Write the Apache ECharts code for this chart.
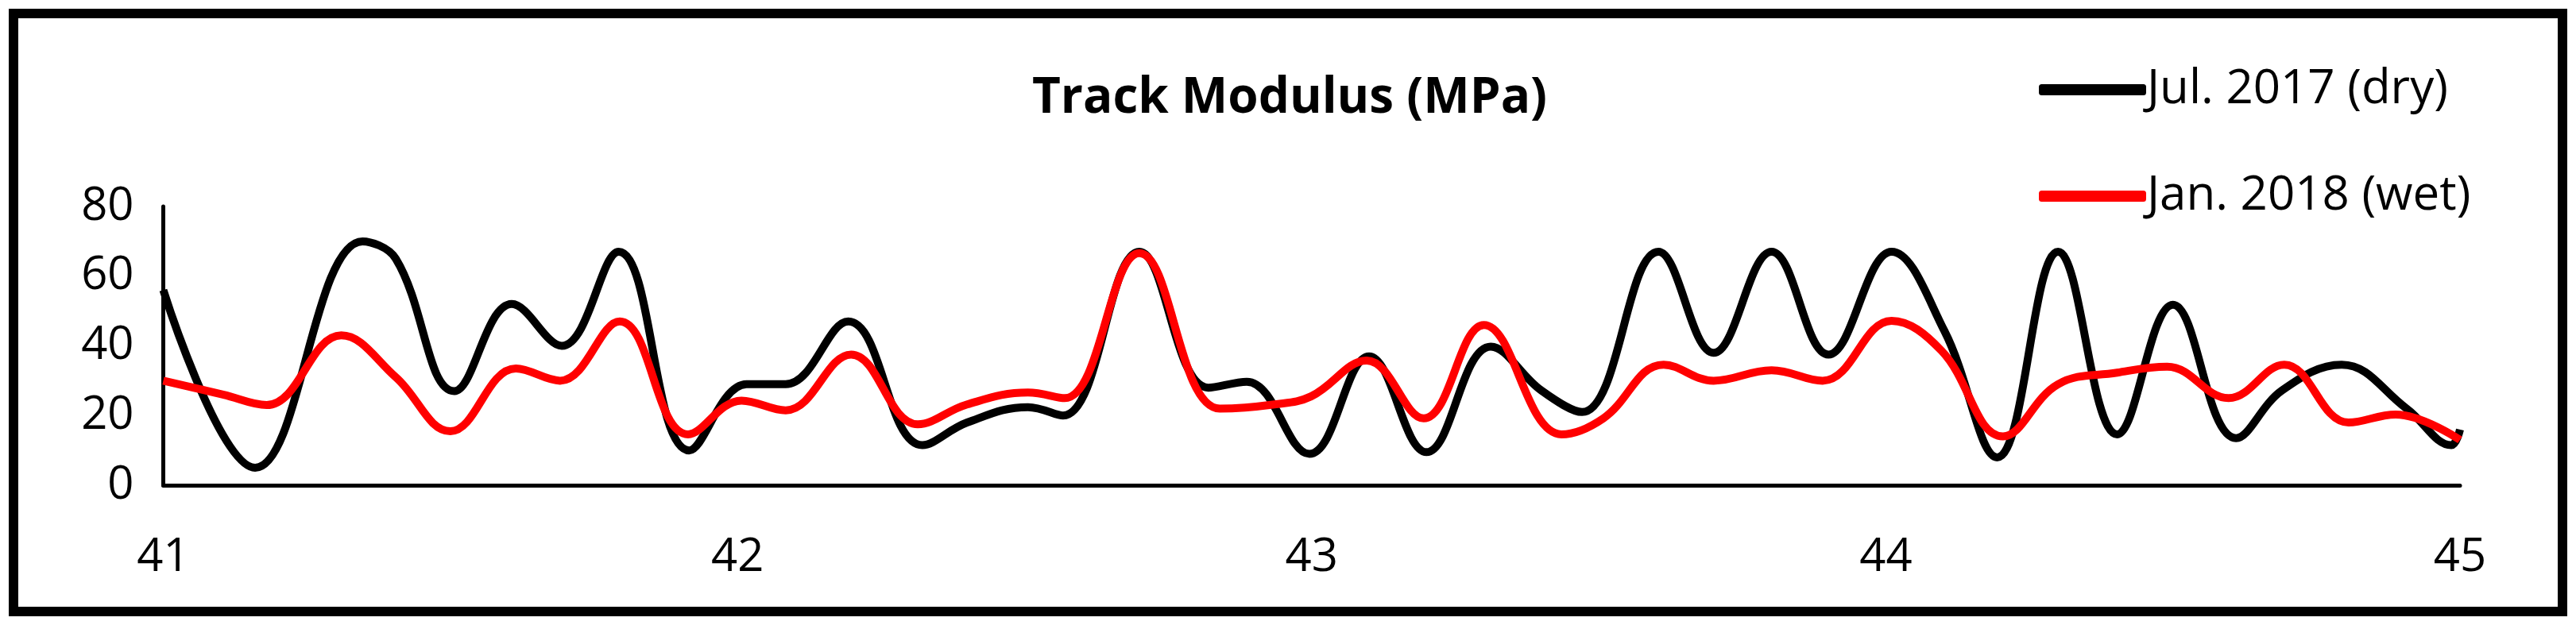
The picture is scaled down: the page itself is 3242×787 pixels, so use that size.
<!DOCTYPE html>
<html><head><meta charset="utf-8">
<script src="https://cdn.jsdelivr.net/npm/echarts@6/dist/echarts.min.js"></script>
<style>html,body{margin:0;padding:0;background:#fff}#c{width:3242px;height:787px}</style>
</head><body><div id="c"></div>
<script>
const title = 'Track Modulus (MPa)';
const seriesNames = ['Jul. 2017 (dry)', 'Jan. 2018 (wet)'];
const yTicks = [0, 20, 40, 60, 80];
const xTicks = [41, 42, 43, 44, 45];
const dryX = [41.0,41.16,41.347,41.405,41.507,41.607,41.694,41.793,41.916,42.016,42.084,42.193,42.322,42.40,42.506,42.567,42.70,42.82,42.887,42.996,43.10,43.20,43.312,43.40,43.471,43.604,43.70,43.801,43.90,44.01,44.102,44.194,44.30,44.403,44.50,44.61,44.69,44.794,44.907,44.985,45.0];
const dryY = [56,5,70,65,27,52,40,67,10,29,29,47,11.5,18,22.4,20,67,28,29.7,9,37,9.5,39.8,27.2,21,67,38,67,37.5,67,44.3,8,67,14.6,51.8,13.5,27.2,34.6,22,11.5,16];
const wetX = [41.0,41.104,41.18,41.31,41.405,41.5,41.614,41.691,41.795,41.914,42.007,42.084,42.198,42.314,42.40,42.506,42.57,42.70,42.84,42.935,42.999,43.096,43.195,43.30,43.435,43.508,43.613,43.70,43.801,43.89,44.01,44.097,44.204,44.30,44.403,44.49,44.597,44.694,44.806,44.888,45.0];
const wetY = [30,26,23,43,31,15.5,33.5,30,47,14.6,24.3,21.5,37.5,17.5,23.2,26.6,25,66.6,22,23.2,25.5,35.8,19.2,46,14.6,19.2,34.6,30,33,30,47.2,38.6,14,29,32.3,34,25,34.6,18,20.3,13];

const font = '"Liberation Sans Narrow", "Open Sans", sans-serif';
const chart = echarts.init(document.getElementById('c'), null, {renderer:'canvas'});
chart.setOption({
  backgroundColor:'#fff',
  animation:false,
  title:{text:title,left:1618,top:88,textAlign:'center',
    textStyle:{fontFamily:font,fontWeight:'bold',fontSize:62,color:'#000'}},
  legend:{orient:'vertical',left:2561,top:78,itemWidth:135,itemHeight:14,itemGap:74,
    icon:'roundRect',
    textStyle:{fontFamily:font,fontSize:60,color:'#000',padding:[0,0,0,-4]},
    data:seriesNames},
  graphic:[{type:'rect',shape:{x:17,y:17,width:3208,height:753},
    style:{fill:'none',stroke:'#000',lineWidth:12},silent:true}],
  grid:{left:205.5,right:146,top:260,bottom:176},
  xAxis:{type:'value',min:xTicks[0],max:xTicks[xTicks.length-1],interval:1,
    axisLine:{lineStyle:{color:'#000',width:5}},axisTick:{show:false},splitLine:{show:false},
    axisLabel:{margin:62,fontFamily:font,fontSize:58,color:'#000'}},
  yAxis:{type:'value',min:yTicks[0],max:yTicks[yTicks.length-1],interval:20,
    axisLine:{show:true,lineStyle:{color:'#000',width:5}},axisTick:{show:false},splitLine:{show:false},
    axisLabel:{margin:37,fontFamily:font,fontSize:58,color:'#000'}},
  series:[
    {name:seriesNames[0],type:'line',smooth:0.4,symbol:'none',
      lineStyle:{color:'#000',width:10},itemStyle:{color:'#000'},
      data:dryX.map((x,i)=>[x,dryY[i]])},
    {name:seriesNames[1],type:'line',smooth:0.4,symbol:'none',
      lineStyle:{color:'#ff0000',width:10},itemStyle:{color:'#ff0000'},
      data:wetX.map((x,i)=>[x,wetY[i]])}
  ]
});
</script></body></html>
